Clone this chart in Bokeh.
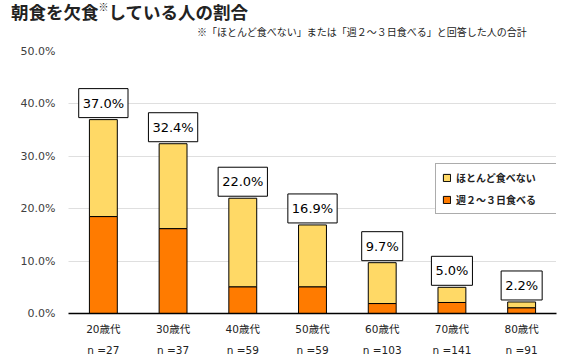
from bokeh.plotting import figure
from bokeh.layouts import column
from bokeh.models import (FactorRange, Range1d, Legend, LegendItem, CategoricalAxis, Div,
                          NumeralTickFormatter, FixedTicker, ColumnDataSource)
from bokeh.core.properties import value
from bokeh.embed import file_html
from bokeh.resources import INLINE

ages = ["20歳代", "30歳代", "40歳代", "50歳代", "60歳代", "70歳代", "80歳代"]
n_labels = ["n =27", "n =37", "n =59", "n =59", "n =103", "n =141", "n =91"]
week23 = [18.5, 16.2, 5.1, 5.1, 1.9, 2.1, 1.1]
hardly = [18.5, 16.2, 16.9, 11.8, 7.8, 2.9, 1.1]
totals = [37.0, 32.4, 22.0, 16.9, 9.7, 5.0, 2.2]
y_ticks = [0, 10, 20, 30, 40, 50]

title_a = "朝食を欠食"
title_mark = "※"
title_b = "している人の割合"
subtitle = "※「ほとんど食べない」または「週２～３日食べる」と回答した人の合計"

ORANGE = "#FF7B00"
YELLOW = "#FFD966"
LATIN = "DejaVu Sans, Noto Sans CJK JP"
CJK = "Noto Sans CJK JP"
W = 565

# ---- title strip ----
head = Div(width=W, height=43, margin=(0, 0, 0, 0), text=(
    '<div style="position:relative;width:%dpx;height:43px;color:#222;">'
    '<span style="position:absolute;left:11px;top:0px;white-space:nowrap;'
    "font-family:'Noto Sans CJK JP';font-weight:bold;font-size:17.5px;line-height:24px;\">"
    '%s<span style="font-size:10px;font-weight:normal;vertical-align:top;line-height:14px;">%s</span>%s</span>'
    '<span style="position:absolute;left:197px;top:26px;white-space:nowrap;'
    "font-family:'Noto Sans CJK JP';font-size:10px;line-height:12px;\">%s</span>"
    '</div>') % (W, title_a, title_mark, title_b, subtitle))

# ---- main chart ----
src = ColumnDataSource(dict(age=ages, week23=week23, hardly=hardly, total=totals,
                            lbl=[f"{v:.1f}%" for v in totals]))

p = figure(width=W, height=317, x_range=FactorRange(*ages), y_range=Range1d(0, 50),
           output_backend="svg", toolbar_location=None, title=None,
           min_border_left=68, min_border_right=9, min_border_top=8, min_border_bottom=47)
p.outline_line_color = None

rs = p.vbar_stack(["week23", "hardly"], x="age", width=0.4, source=src,
                  color=[ORANGE, YELLOW], line_color="black", line_width=1)

p.text(x="age", y="total", text="lbl", source=src, text_align="center", text_baseline="bottom",
       y_offset=-2, text_font=value("DejaVu Sans"), text_font_size="13px", text_color="black",
       background_fill_color="white", border_line_color="black", border_line_width=1,
       padding=dict(left=4, right=4, top=7, bottom=7))

# y axis
p.yaxis.ticker = FixedTicker(ticks=y_ticks)
p.yaxis.formatter = NumeralTickFormatter(format="0.0")
p.yaxis.major_label_overrides = {v: f"{v:.1f}%" for v in y_ticks}
p.yaxis.axis_line_color = None
p.yaxis.major_tick_line_color = None
p.yaxis.minor_tick_line_color = None
p.yaxis.major_tick_out = 0
p.yaxis.major_label_standoff = 13
p.yaxis.major_label_text_font = "DejaVu Sans"
p.yaxis.major_label_text_font_size = "11px"
p.yaxis.major_label_text_color = "#404040"

p.ygrid.ticker = FixedTicker(ticks=y_ticks)
p.ygrid.grid_line_color = "#BFBFBF"
p.ygrid.grid_line_dash = "1 1"
p.xgrid.grid_line_color = None

# x axis (age)
xa = p.xaxis[0]
xa.axis_line_color = "black"
xa.axis_line_width = 1.5
xa.major_tick_line_color = None
xa.major_tick_out = 0
xa.major_label_standoff = 9
xa.major_label_text_font = LATIN
xa.major_label_text_font_size = "10.5px"
xa.major_label_text_color = "#222222"

# second row: sample sizes (factors made unique with a zero-width space where repeated)
n_factors = []
for lab in n_labels:
    while lab in n_factors:
        lab = lab + "\u200b"
    n_factors.append(lab)
p.extra_x_ranges = {"n": FactorRange(*n_factors)}
xa2 = CategoricalAxis(x_range_name="n",
                      axis_line_color=None, major_tick_line_color=None, minor_tick_line_color=None,
                      major_tick_out=0, major_label_standoff=6,
                      major_label_text_font=LATIN, major_label_text_font_size="10.5px",
                      major_label_text_color="#222222")
p.add_layout(xa2, "below")

# legend
legend = Legend(items=[LegendItem(label="ほとんど食べない", renderers=[rs[1]]),
                       LegendItem(label="週２～３日食べる", renderers=[rs[0]])],
                location=(367, 99), margin=0, padding=6, spacing=7,
                glyph_width=9, glyph_height=9, label_height=12, label_width=95,
                label_standoff=5, label_text_font=CJK, label_text_font_style="bold",
                label_text_font_size="10px", label_text_color="#222222",
                border_line_color="#595959", border_line_width=1.5,
                background_fill_color="white", background_fill_alpha=1)
p.add_layout(legend)

layout = column(head, p, spacing=0)
open("out.html", "w").write(file_html(layout, INLINE))
